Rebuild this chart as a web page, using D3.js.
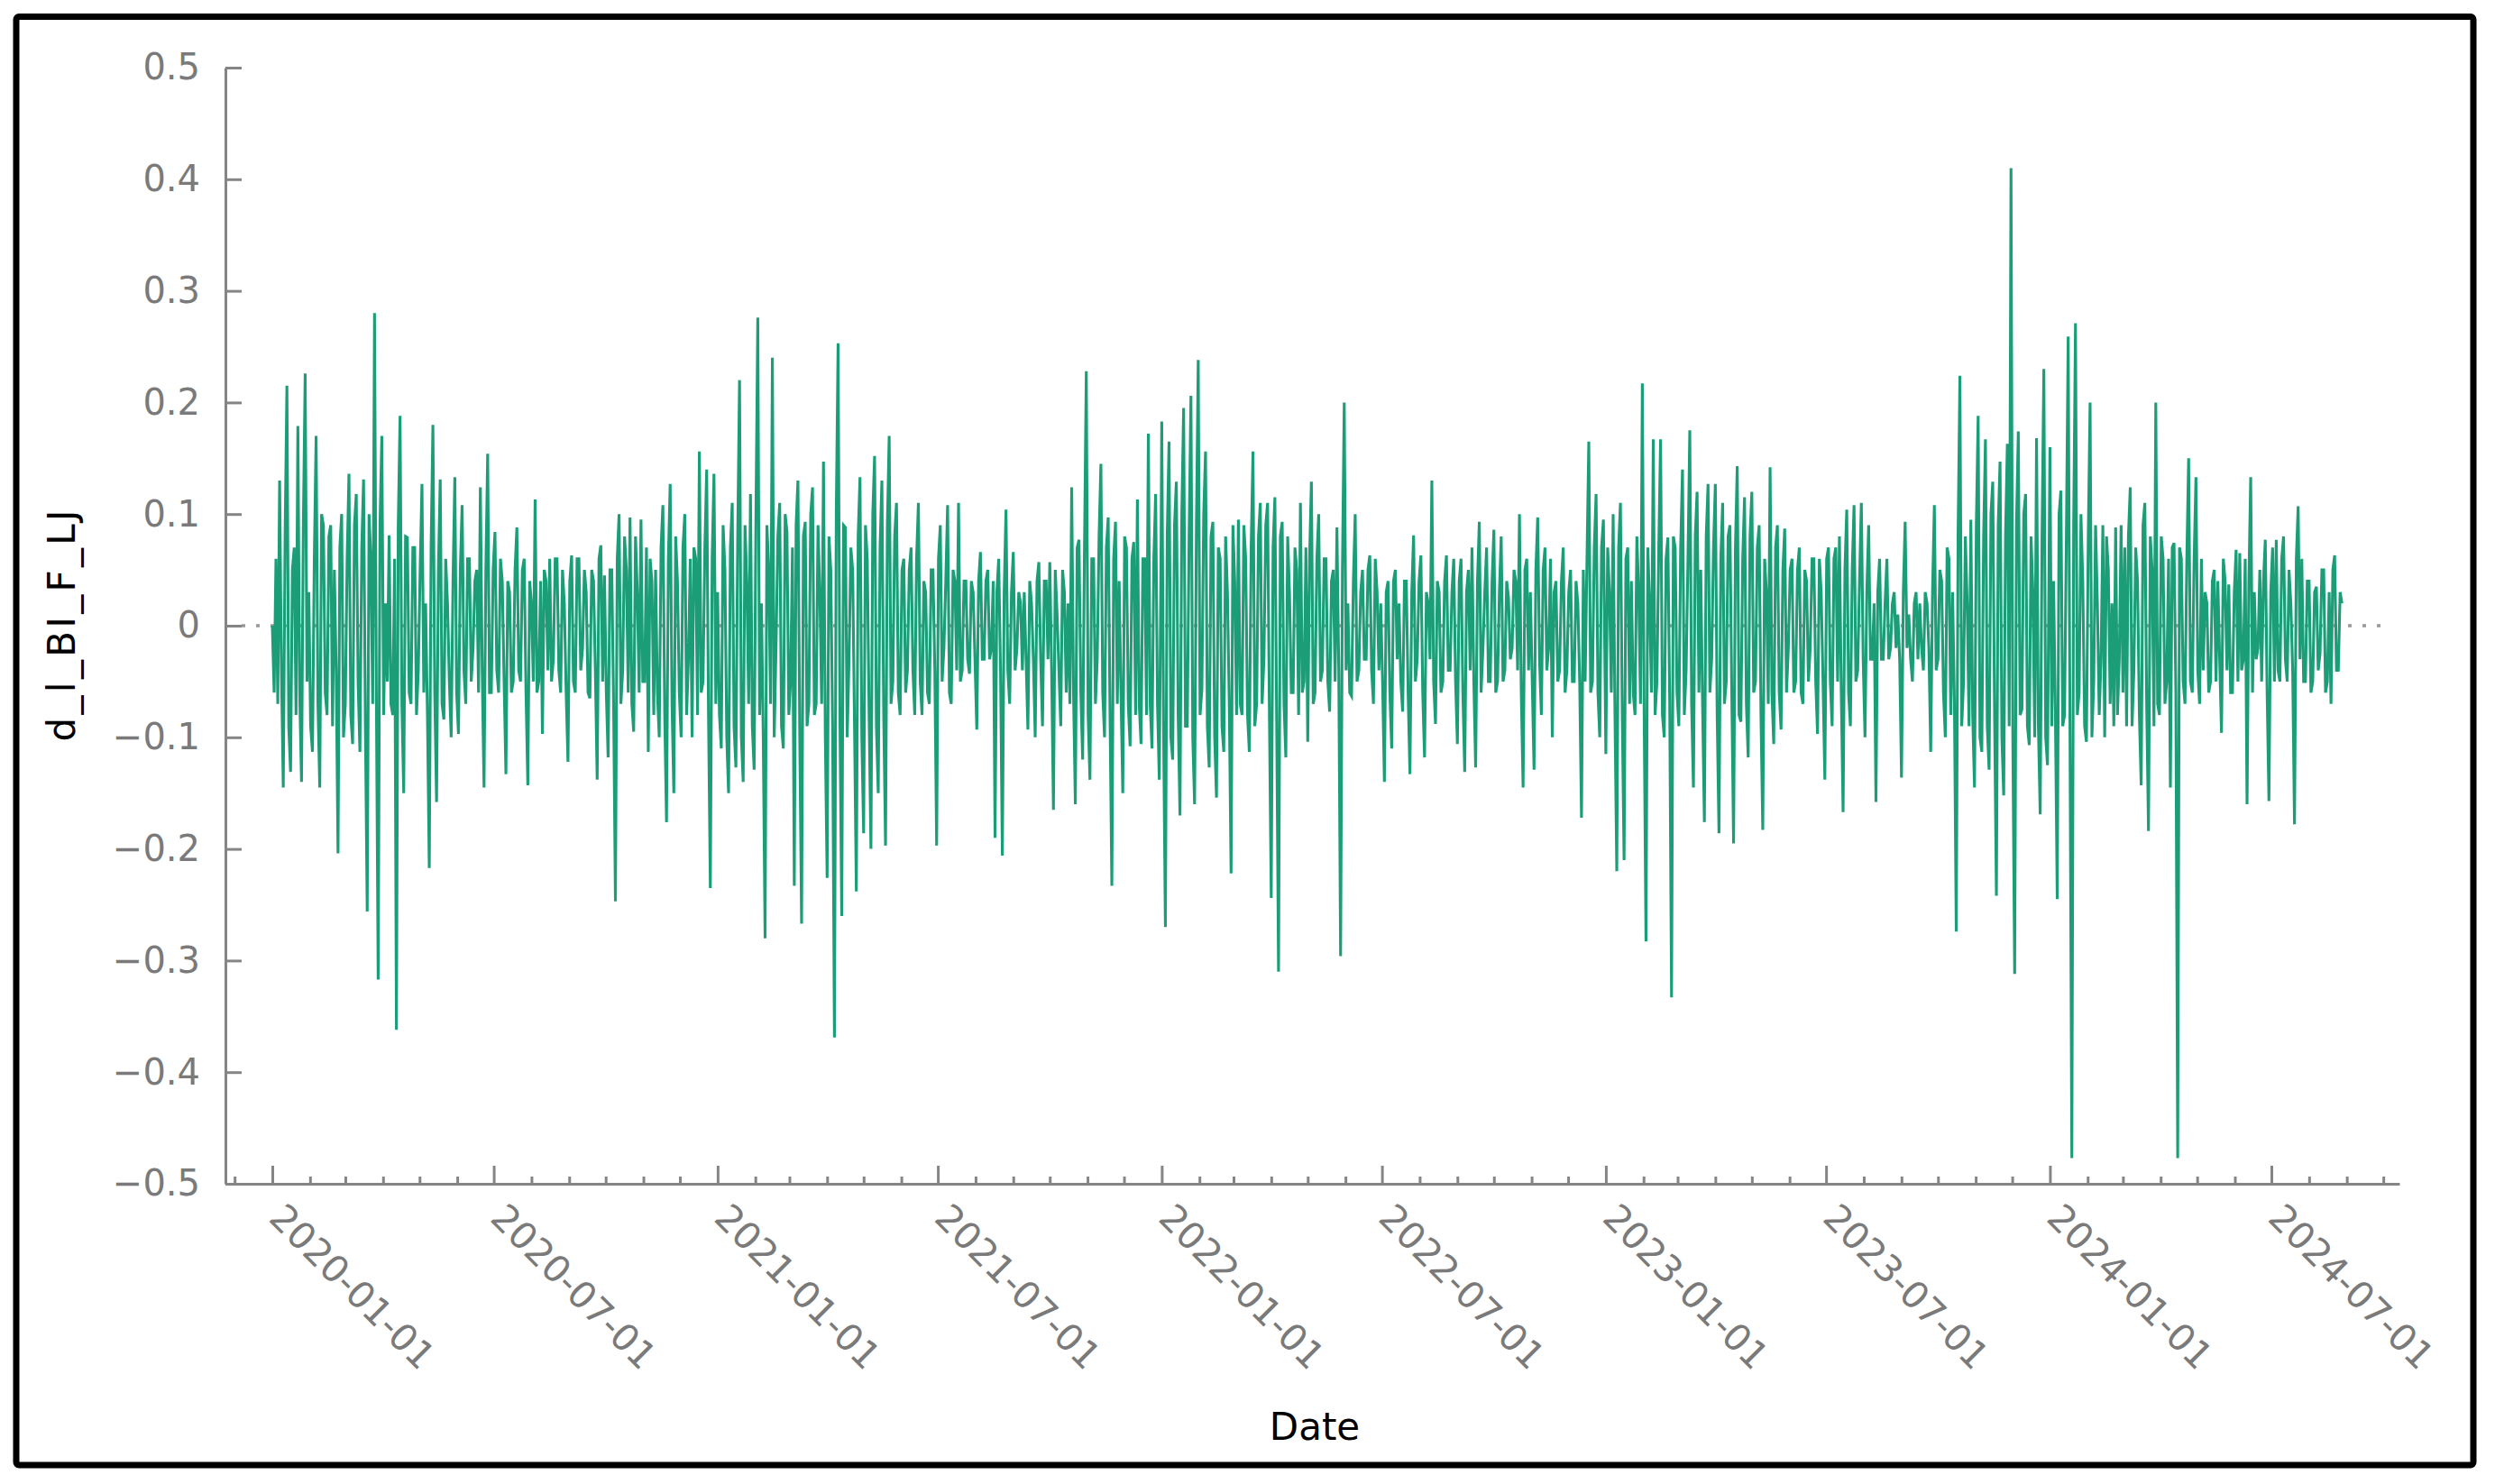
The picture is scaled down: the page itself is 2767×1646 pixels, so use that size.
<!DOCTYPE html>
<html>
<head>
<meta charset="utf-8">
<script src="https://cdn.jsdelivr.net/npm/d3@7"></script>
<style>
  html, body { margin: 0; padding: 0; background: #fff; }
  svg { display: block; }
</style>
</head>
<body>
<div id="chart"></div>
<script>
// readings every 3 days from Jan 1 of each year (v), and the in-between readings 1.5 days later (w)
const v2020 = [0.00,0.06,0.13,-0.145,0.215,-0.131,0.07,0.179,-0.14,0.226,
  0.03,-0.113,0.17,-0.145,0.09,-0.08,0.09,0.05,-0.204,0.1,
  -0.07,0.136,-0.106,0.118,-0.113,0.131,-0.256,0.06,0.28,-0.317,
  0.17,0.02,0.081,-0.08,-0.362,0.188,-0.15,0.079,-0.07,0.07,
  -0.04,0.127,0.02,-0.217,0.18,-0.158,0.131,-0.084,0.02,-0.1,
  0.133,-0.097,0.108,-0.07,0.06,-0.02,0.05,0.124,-0.145,0.154,
  -0.06,0.084,-0.06,0.04,-0.133,0.03,-0.05,0.088,-0.05,0.06,
  -0.143,0.02,0.113,-0.05,-0.097,0.04,0.06,-0.03,0.06,-0.06,
  0.02,-0.122,0.063,-0.06,0.06,-0.02,0.03,-0.065,0.04,-0.138,
  0.072,0.045,-0.118,0.05,-0.247,0.10,-0.04,0.05,0.097,-0.095,
  0.03,0.095,-0.05,-0.113,0.04,0.05,-0.1,0.108,-0.176,0.127,
  -0.15,0.04,-0.1,0.1,-0.03,-0.1,0.06,0.156,-0.05,0.14,
  -0.235,0.136];
const w2020 = [-0.06,-0.07,-0.04,0.08,-0.09,0.05,-0.08,-0.06,0.09,-0.05,
  -0.09,0.06,-0.07,0.1,-0.06,0.08,-0.09,-0.04,0.07,-0.1,
  0.06,-0.08,0.09,-0.05,0.07,-0.09,0.1,-0.07,-0.06,0.09,
  -0.08,-0.05,-0.07,0.06,0.09,-0.07,0.08,-0.06,0.07,-0.08,
  0.05,-0.06,-0.08,0.07,-0.06,0.05,-0.07,0.06,-0.05,0.04,
  -0.06,0.05,-0.04,0.06,-0.05,0.04,-0.06,-0.04,0.05,-0.06,
  0.05,-0.04,0.06,-0.05,0.04,-0.06,0.05,-0.04,0.05,-0.06,
  0.04,-0.05,-0.06,0.04,0.05,-0.04,-0.05,0.06,-0.04,0.05,
  -0.06,0.04,-0.05,0.06,-0.04,0.05,-0.06,0.05,-0.04,0.06,
  -0.05,-0.06,0.05,-0.07,0.06,-0.07,0.08,-0.06,-0.07,0.08,
  -0.06,-0.05,0.07,0.06,-0.08,-0.06,0.07,-0.08,0.06,-0.07,
  0.08,-0.06,0.07,-0.08,0.06,0.07,-0.08,-0.06,0.07,-0.08,
  0.06,-0.07];
const v2021 = [0.03,-0.11,0.05,-0.15,0.11,-0.127,0.22,-0.14,0.04,0.118,
  -0.129,0.276,0.02,-0.28,0.05,0.24,-0.02,0.11,-0.11,0.084,
  -0.05,-0.233,0.13,-0.267,0.093,-0.07,0.124,-0.07,0.03,0.147,
  -0.226,0.05,-0.369,0.253,-0.26,0.088,-0.03,0.05,-0.238,0.133,
  -0.186,0.06,-0.2,0.152,-0.15,0.13,-0.197,0.17,-0.05,0.11,
  -0.08,0.06,-0.04,0.07,-0.08,0.11,-0.08,0.03,-0.07,0.05,
  -0.197,0.09,-0.02,0.108,-0.07,0.04,0.11,-0.04,0.04,-0.043,
  0.03,-0.093,0.066,-0.03,0.05,-0.02,-0.19,0.06,-0.206,0.104,
  -0.07,0.066,-0.02,0.02,0.03,-0.093,0.02,-0.1,0.057,-0.09,
  0.04,0.057,-0.165,0.01,-0.09,0.03,0.02,0.124,-0.16,0.077,
  -0.12,0.228,-0.138,0.06,-0.03,0.145,-0.1,0.097,-0.233,0.093,
  0.04,-0.15,0.07,-0.108,0.075,0.113,-0.106,0.06,0.172,-0.11,
  0.118,-0.138];
const w2021 = [-0.08,0.09,-0.1,0.07,-0.09,0.08,-0.1,0.09,-0.07,-0.09,
  0.1,-0.08,-0.1,0.09,-0.07,-0.1,0.08,-0.09,0.1,-0.08,
  0.07,0.09,-0.1,0.08,-0.09,0.1,-0.08,0.09,-0.07,-0.1,
  0.08,-0.09,0.1,-0.08,0.09,-0.1,0.07,-0.09,0.08,-0.1,
  0.09,-0.08,0.1,-0.09,0.07,-0.08,0.09,-0.07,0.08,-0.06,
  0.05,-0.06,0.05,-0.04,0.06,-0.05,0.04,-0.06,0.05,-0.04,
  0.06,-0.05,0.04,-0.06,0.05,-0.04,-0.05,0.04,-0.03,0.04,
  -0.03,0.04,-0.03,0.04,-0.03,0.04,0.03,-0.04,0.03,-0.04,
  0.03,-0.04,0.03,-0.04,-0.03,0.04,-0.03,0.04,-0.03,0.04,
  -0.03,-0.04,0.05,-0.04,0.05,-0.06,-0.07,-0.06,0.07,-0.06,
  0.07,-0.08,0.06,-0.07,0.08,-0.06,0.07,-0.08,0.06,-0.07,
  -0.06,0.08,-0.07,0.06,-0.08,-0.07,0.06,-0.08,-0.07,0.06,
  -0.07,0.08];
const v2022 = [0.183,-0.27,0.165,-0.12,0.129,-0.17,0.195,-0.09,0.206,-0.16,
  0.238,-0.057,0.156,-0.127,0.093,-0.154,0.06,-0.113,0.03,-0.222,
  0.04,0.095,-0.08,0.06,-0.113,0.156,-0.07,0.11,-0.03,0.11,
  -0.244,0.115,-0.31,0.093,-0.118,0.03,-0.06,0.05,0.11,-0.05,
  -0.104,0.129,-0.06,0.10,-0.04,0.06,-0.077,0.05,0.088,-0.296,
  0.20,0.02,-0.063,0.10,-0.04,0.05,-0.03,0.063,-0.07,0.03,
  0.02,-0.14,0.04,-0.11,0.05,0.02,-0.077,0.04,-0.133,0.081,
  -0.03,0.063,-0.118,0.02,0.13,-0.088,0.03,-0.05,0.063,-0.04,
  0.06,-0.106,0.06,-0.131,0.05,0.07,-0.127,0.093,-0.02,0.07,
  -0.05,0.086,-0.05,0.08,-0.04,0.025,-0.02,0.04,0.1,-0.145,
  0.06,0.03,-0.129,0.097,-0.08,0.07,-0.02,-0.1,0.04,-0.04,
  0.07,-0.04,0.05,-0.05,0.02,-0.172,-0.05,0.165,-0.05,0.118,
  -0.1,0.095];
const w2022 = [-0.09,0.08,-0.1,0.09,-0.08,0.1,-0.09,0.08,-0.1,0.09,
  -0.08,0.1,-0.09,0.08,-0.1,0.07,-0.09,0.08,-0.07,0.09,
  -0.08,-0.07,0.09,-0.08,0.07,-0.09,0.08,-0.07,0.09,-0.08,
  0.07,-0.09,0.08,-0.07,0.08,-0.06,0.07,-0.08,-0.06,0.07,
  0.06,-0.07,0.06,-0.05,0.06,-0.05,0.04,-0.05,-0.04,0.05,
  -0.04,-0.06,0.04,-0.05,0.03,-0.03,0.05,-0.04,0.06,-0.04,
  -0.05,0.03,-0.06,0.04,-0.03,-0.05,0.04,-0.06,0.03,-0.05,
  0.04,-0.06,0.03,-0.03,-0.05,0.04,-0.06,0.04,-0.04,0.03,
  -0.05,0.04,-0.06,0.03,-0.04,-0.05,0.04,-0.06,0.03,-0.05,
  0.04,-0.06,0.03,-0.05,0.04,-0.03,0.05,-0.04,-0.06,0.05,
  -0.04,-0.05,0.05,-0.03,0.05,-0.04,0.06,0.03,-0.05,0.04,
  -0.06,0.03,-0.05,0.04,-0.05,0.05,0.06,-0.06,0.07,-0.06,
  0.07,-0.06];
const v2023 = [-0.115,0.03,0.1,-0.22,0.11,-0.21,0.07,0.04,-0.08,0.03,
  0.217,-0.283,0.02,0.167,-0.05,0.167,-0.1,0.079,-0.333,0.07,
  -0.09,0.14,-0.04,0.175,-0.145,0.12,0.05,-0.176,0.127,-0.03,
  0.127,-0.186,0.11,-0.05,0.09,-0.195,0.143,-0.086,0.115,-0.118,
  0.12,-0.05,0.09,-0.183,0.03,0.142,-0.106,0.09,-0.093,0.087,
  -0.02,0.06,-0.05,0.07,-0.07,0.04,-0.02,0.06,-0.097,0.03,
  -0.138,0.07,-0.09,0.07,0.08,-0.167,0.104,-0.09,0.108,-0.04,
  0.11,-0.1,0.09,-0.03,-0.158,0.06,-0.03,0.06,-0.02,0.03,
  0.01,-0.136,0.093,0.01,-0.05,0.03,0.02,-0.04,0.02,-0.113,
  0.108,-0.03,0.04,-0.1,0.06,0.03,-0.274,0.224,-0.05,0.02,
  0.095,-0.145,0.188,-0.113,0.167,-0.129,0.129,-0.242,0.147,-0.152,
  0.163,0.41,-0.312,0.174,-0.075,0.118,-0.107,0.03,0.168,-0.169,
  0.23,-0.125];
const w2023 = [0.07,-0.06,-0.08,0.07,-0.08,0.06,-0.07,-0.06,0.08,-0.07,
  -0.08,0.07,-0.06,-0.08,0.07,-0.08,0.06,-0.07,0.08,-0.06,
  0.07,-0.08,0.06,-0.07,0.08,-0.06,-0.07,0.08,-0.06,0.07,
  -0.08,0.06,-0.07,0.08,-0.06,0.07,-0.08,0.06,-0.07,0.08,
  -0.06,0.07,-0.08,0.06,-0.07,-0.06,0.07,-0.06,0.05,-0.06,
  0.05,-0.06,0.05,-0.06,0.05,-0.05,0.06,-0.05,0.06,-0.05,
  0.06,-0.05,0.06,-0.05,-0.06,0.05,-0.06,0.05,-0.05,0.04,
  -0.03,0.03,-0.03,0.02,0.03,-0.03,0.02,-0.03,0.02,-0.02,
  -0.03,0.03,-0.02,-0.03,0.02,-0.03,-0.02,0.03,-0.02,0.03,
  -0.04,0.05,-0.06,0.07,-0.08,-0.07,0.08,-0.09,0.08,-0.09,
  -0.08,0.09,-0.1,0.08,-0.09,0.1,-0.08,0.09,-0.1,0.08,
  -0.09,-0.1,0.09,-0.08,0.1,-0.09,0.08,-0.1,-0.09,0.08,
  -0.1,0.09];
const v2024 = [0.16,0.04,-0.245,0.121,-0.08,0.259,-0.477,0.271,-0.06,0.04,
  -0.104,0.2,-0.05,0.02,-0.03,-0.1,0.05,0.02,0.088,-0.03,
  -0.06,-0.09,0.124,-0.04,0.04,-0.143,0.11,-0.184,0.05,0.2,
  -0.08,0.06,-0.05,-0.145,0.074,-0.477,0.06,-0.07,0.15,-0.06,
  0.133,-0.07,-0.04,0.02,-0.05,0.05,0.04,-0.096,0.04,0.037,
  -0.06,0.068,0.065,-0.03,-0.16,0.133,0.03,-0.02,-0.05,0.077,
  -0.157,0.07,0.077,-0.05,0.08,-0.05,0.02,-0.178,0.107,0.06,
  -0.05,0.04,-0.05,0.035,-0.025,0.05,-0.05,-0.07,0.063,-0.04,
  0.02];
const w2024 = [-0.09,-0.08,0.1,-0.09,0.08,-0.1,0.09,-0.08,0.1,-0.09,
  0.08,-0.1,0.09,-0.08,0.09,0.08,-0.07,-0.09,-0.08,0.09,
  0.07,0.08,-0.09,0.07,-0.08,0.09,-0.07,0.08,-0.09,-0.07,
  0.08,-0.07,0.06,0.07,-0.06,0.07,-0.05,0.06,-0.05,0.06,
  -0.04,0.06,0.03,-0.06,0.04,-0.05,-0.03,0.06,-0.04,-0.06,
  0.03,-0.05,-0.04,0.06,0.04,-0.06,-0.03,0.05,0.04,-0.06,
  0.03,-0.05,-0.04,0.06,-0.03,0.05,-0.04,0.06,-0.03,-0.05,
  0.04,-0.06,0.03,-0.04,0.05,-0.06,0.03,0.05,-0.04,0.03];
const years = [2020, 2021, 2022, 2023, 2024];
const mainValues = [v2020, v2021, v2022, v2023, v2024],
  midValues = [w2020, w2021, w2022, w2023, w2024];
const stepHours = 72;
const yTicks = [-0.5, -0.4, -0.3, -0.2, -0.1, 0, 0.1, 0.2, 0.3, 0.4, 0.5];
const xLabel = "Date",
  yLabel = "d_l_BI_F_LJ";

const width = 2767,
  height = 1646,
  font = "'DejaVu Sans', Verdana, sans-serif",
  axisColor = "#858585",
  labelColor = "#7a7a7a";

const data = [];
years.forEach((yr, k) => {
  const start = new Date(Date.UTC(yr, 0, 1));
  mainValues[k].forEach((v, i) => data.push({ date: d3.utcHour.offset(start, stepHours * i), value: v }));
  midValues[k].forEach((v, i) => data.push({ date: d3.utcHour.offset(start, stepHours * i + stepHours / 2), value: v }));
});
data.sort((a, b) => a.date - b.date);

const svg = d3
  .select("#chart")
  .append("svg")
  .attr("width", width)
  .attr("height", height)
  .style("font-family", font);

svg.append("rect").attr("width", width).attr("height", height).attr("fill", "#fff");

// frame
svg
  .append("rect")
  .attr("x", 18)
  .attr("y", 18.5)
  .attr("width", 2725)
  .attr("height", 1606.5)
  .attr("rx", 3)
  .attr("fill", "none")
  .attr("stroke", "#000")
  .attr("stroke-width", 7);

// scales: Jan 2020 and Jul 2024 ticks fix the time scale, axis runs a bit past them
const xRef = d3
  .scaleUtc()
  .domain([new Date(Date.UTC(2020, 0, 1)), new Date(Date.UTC(2024, 6, 1))])
  .range([302, 2519]);
const x = d3.scaleUtc().domain([xRef.invert(250), xRef.invert(2661)]).range([250, 2661]);
const y = d3.scaleLinear().domain([-0.5, 0.5]).range([1313, 75]);

// zero line
svg
  .append("line")
  .attr("x1", 268)
  .attr("x2", 2652)
  .attr("y1", y(0))
  .attr("y2", y(0))
  .attr("stroke", "#999")
  .attr("stroke-width", 3.5)
  .attr("stroke-dasharray", "4,12");

// series
svg
  .append("path")
  .datum(data)
  .attr("fill", "none")
  .attr("stroke", "#1b9e77")
  .attr("stroke-width", 3.1)
  .attr(
    "d",
    d3
      .line()
      .x((d) => x(d.date))
      .y((d) => y(d.value))
  );

// y axis
const yAxis = svg
  .append("g")
  .attr("transform", "translate(250,0)")
  .call(
    d3
      .axisLeft(y)
      .tickValues(yTicks)
      .tickSizeInner(-18)
      .tickSizeOuter(0)
      .tickPadding(28)
      .tickFormat((d) => (d === 0 ? "0" : d3.format(".1f")(d)))
  )
  .attr("font-family", font)
  .attr("font-size", 40);
yAxis.select(".domain").attr("stroke", axisColor).attr("stroke-width", 3);
yAxis.selectAll(".tick line").attr("stroke", axisColor).attr("stroke-width", 3);
yAxis.selectAll(".tick text").attr("fill", labelColor);

// x axis: half-year major ticks, monthly minor ticks
const months = d3.utcMonth.range(new Date(Date.UTC(2019, 11, 1)), new Date(Date.UTC(2024, 10, 1)));
const majorMonths = months.filter((d) => d.getUTCMonth() % 6 === 0),
  minorMonths = months.filter((d) => d.getUTCMonth() % 6 !== 0);

const xMinor = svg
  .append("g")
  .attr("transform", "translate(0,1313)")
  .call(d3.axisBottom(x).tickValues(minorMonths).tickSizeInner(-8).tickSizeOuter(0).tickFormat(""));
xMinor.select(".domain").remove();
xMinor.selectAll(".tick line").attr("stroke", axisColor).attr("stroke-width", 3);

const xAxis = svg
  .append("g")
  .attr("transform", "translate(0,1313)")
  .call(
    d3
      .axisBottom(x)
      .tickValues(majorMonths)
      .tickSizeInner(-20)
      .tickSizeOuter(0)
      .tickFormat(d3.utcFormat("%Y-%m-%d"))
  )
  .attr("font-family", font)
  .attr("font-size", 41);
xAxis.select(".domain").attr("stroke", axisColor).attr("stroke-width", 3);
xAxis.selectAll(".tick line").attr("stroke", axisColor).attr("stroke-width", 3);
xAxis
  .selectAll(".tick text")
  .attr("fill", labelColor)
  .attr("text-anchor", "start")
  .attr("x", 0)
  .attr("y", 0)
  .attr("dy", 0)
  .attr("transform", "translate(-6,40) rotate(45)");

// titles
svg
  .append("text")
  .attr("x", 1458)
  .attr("y", 1597)
  .attr("text-anchor", "middle")
  .attr("font-size", 42)
  .attr("fill", "#000")
  .text(xLabel);
svg
  .append("text")
  .attr("transform", "translate(83,694) rotate(-90)")
  .attr("text-anchor", "middle")
  .attr("font-size", 42)
  .attr("fill", "#000")
  .attr("textLength", 257)
  .attr("lengthAdjust", "spacing")
  .text(yLabel);
</script>
</body>
</html>
